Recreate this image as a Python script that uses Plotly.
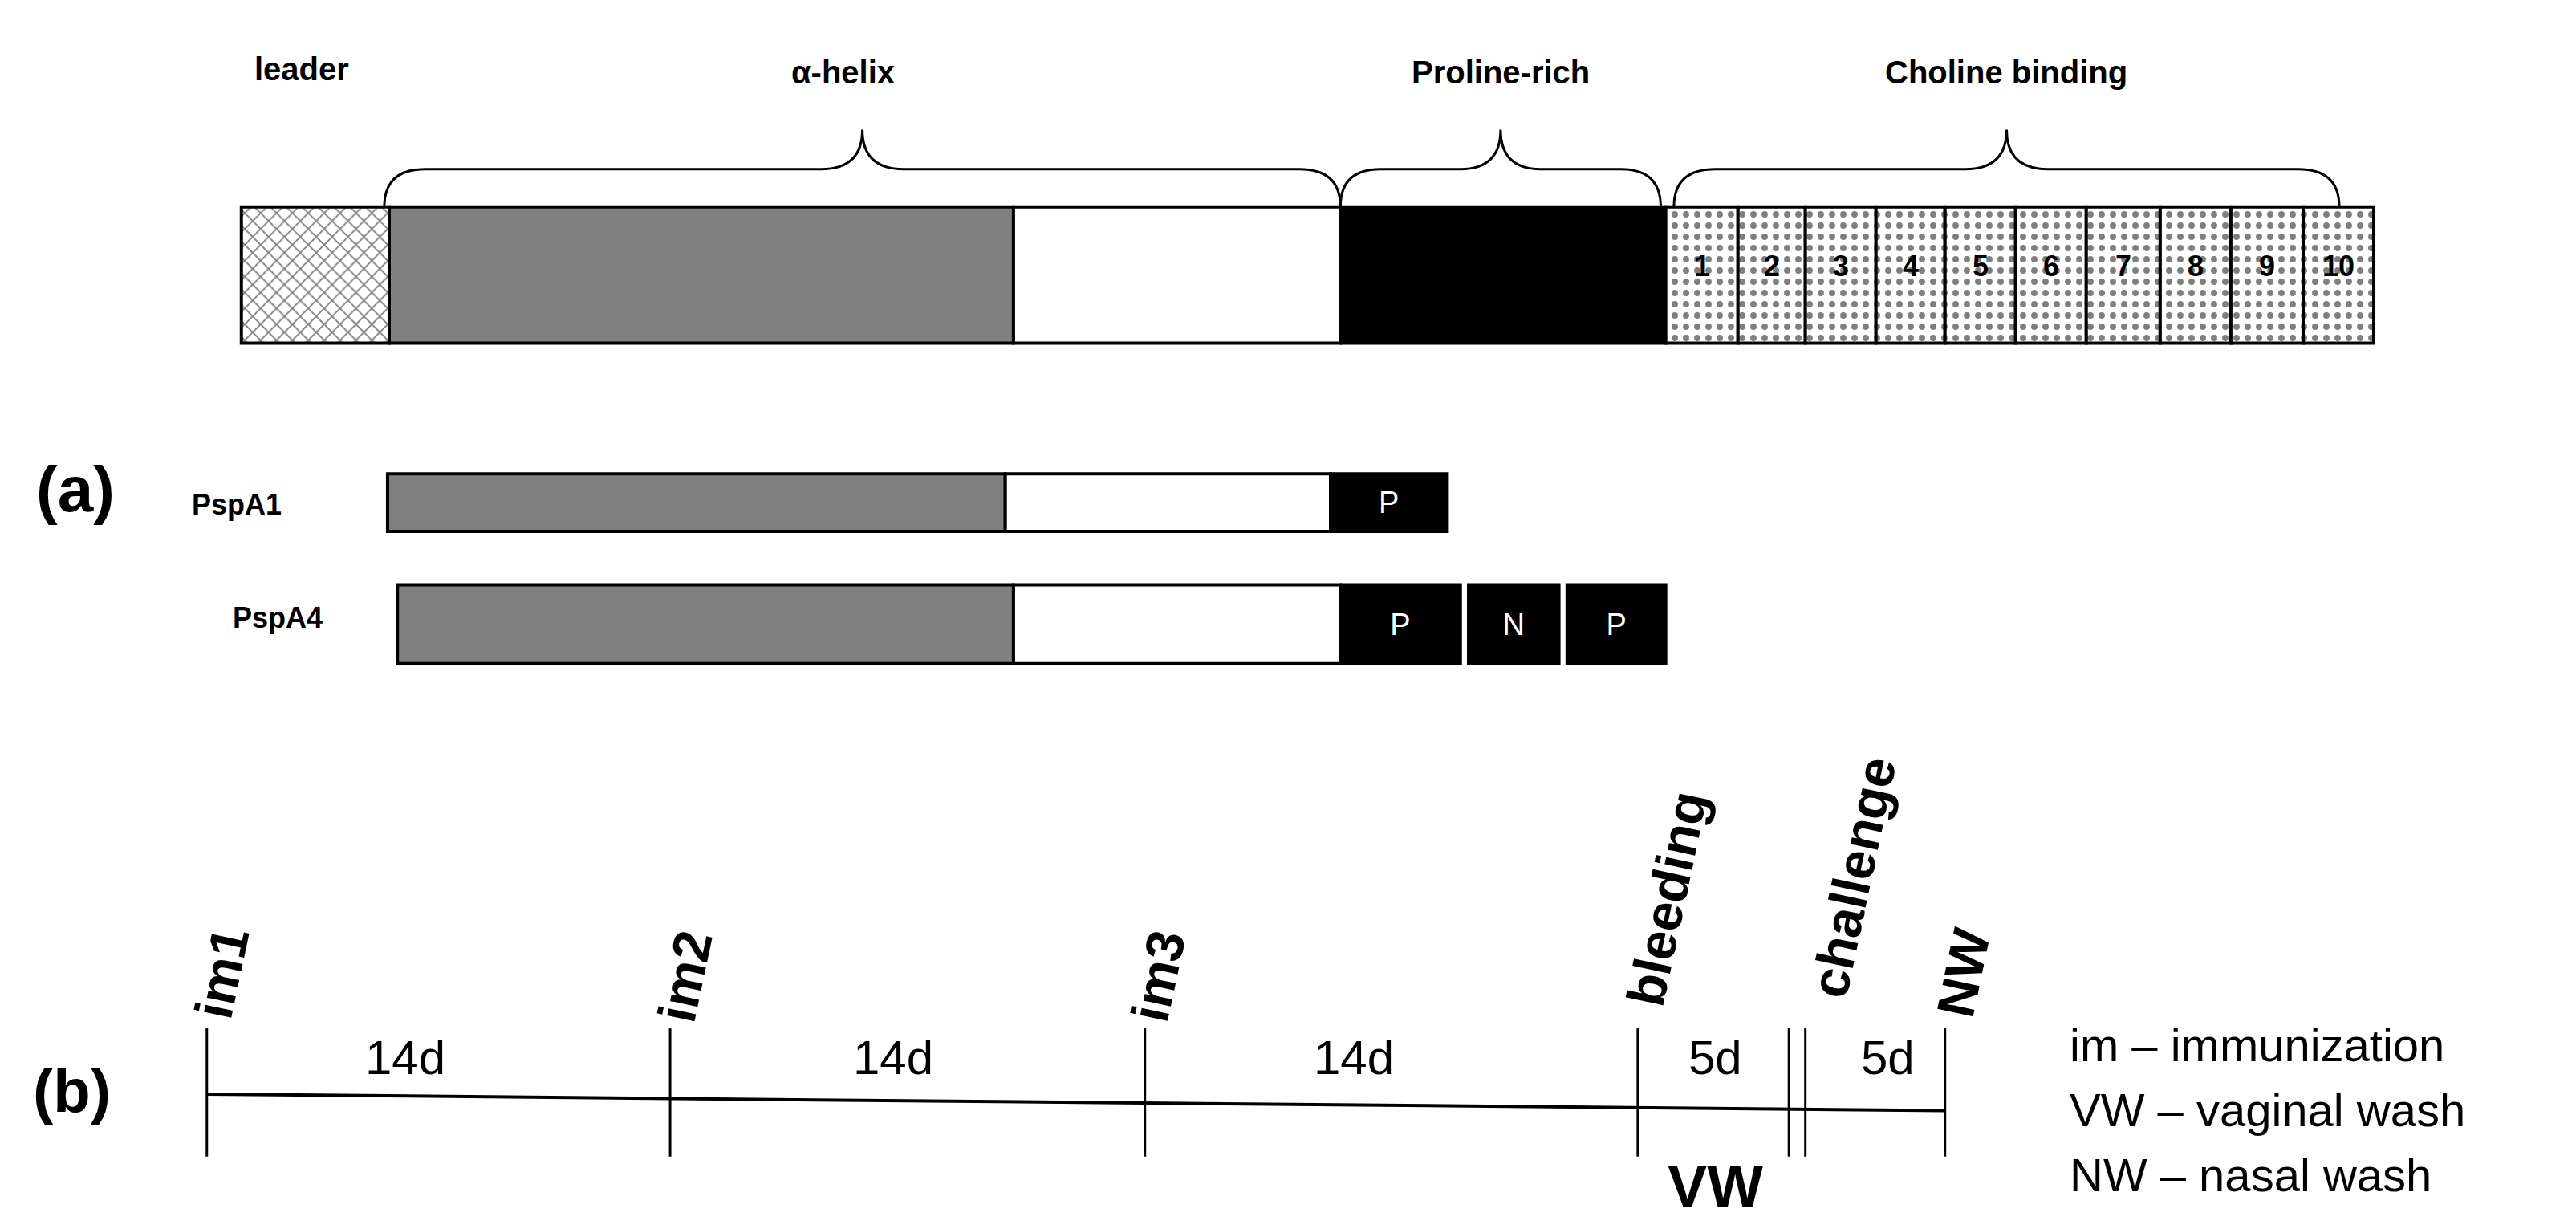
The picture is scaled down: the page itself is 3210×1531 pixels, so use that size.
import plotly.graph_objects as go

# display-unit coordinate system (x 0..1568, y 0..748, y downwards)
FONT = "Liberation Sans Narrow, Liberation Sans, Arial"

# full-length protein domains
domain_start = [143, 233, 613, 812]
domain_end = [233, 613, 812, 1010]
domain_fill = ["white", "#808080", "white", "black"]
domain_pattern = ["x", "", "", ""]
choline_edges = [1010, 1054, 1095, 1138, 1180, 1223, 1266, 1311, 1354, 1398, 1441]
choline_labels = [str(i) for i in range(1, 11)]

# constructs
pspa1_start = [232, 608, 806]
pspa1_end = [608, 806, 877]
pspa1_fill = ["#808080", "white", "black"]
pspa1_text = ["", "", "P"]
pspa4_start = [238, 613, 812, 890, 950]
pspa4_end = [613, 812, 885, 945, 1010]
pspa4_fill = ["#808080", "white", "black", "black", "black"]
pspa4_text = ["", "", "P", "N", "P"]

# braces
brace_x0 = [230, 812, 1015]
brace_x1 = [812, 1007, 1420]
brace_labels = ["α-helix", "Proline-rich", "Choline binding"]

# timeline
tick_x = [122, 404, 693, 993, 1085, 1095, 1180]
event_labels = ["im1", "im2", "im3", "bleeding", "challenge", "NW"]
event_x = [131, 413, 701, 1011, 1124, 1191]
event_y = [588, 590, 590, 543, 530, 588]
interval_labels = ["14d", "14d", "14d", "5d", "5d"]
interval_x = [243, 540, 820, 1040, 1145]
legend_lines = ["im – immunization", "VW – vaginal wash", "NW – nasal wash"]

fig = go.Figure()


def add_row(starts, ends, fills, y, thick, patterns=None, texts=None):
    for i, (a, b, c) in enumerate(zip(starts, ends, fills)):
        pat = patterns[i] if patterns else ""
        fig.add_trace(go.Bar(
            orientation="h", base=[a], x=[b - a], y=[y], width=thick,
            marker=dict(color=c, line=dict(color="black", width=4),
                        pattern=dict(shape=pat, fgcolor="black", bgcolor="white",
                                     size=14, solidity=0.25) if pat else None),
            text=[texts[i]] if texts else None, textposition="inside",
            insidetextanchor="middle",
            textfont=dict(family=FONT, size=38, color="white"),
            showlegend=False, hoverinfo="skip"))


add_row(domain_start, domain_end, domain_fill, 163.5, 83, patterns=domain_pattern)
add_row(choline_edges[:-1], choline_edges[1:], ["white"] * 10, 163.5, 83,
        patterns=["."] * 10)
add_row(pspa1_start, pspa1_end, pspa1_fill, 302, 35, texts=pspa1_text)
add_row(pspa4_start, pspa4_end, pspa4_fill, 376, 48, texts=pspa4_text)

for a, b, lab in zip(choline_edges[:-1], choline_edges[1:], choline_labels):
    fig.add_annotation(x=(a + b) / 2, y=158, text="<b>%s</b>" % lab, showarrow=False,
                       font=dict(family=FONT, size=36, color="black"))

shapes = []
for x0, x1, lab in zip(brace_x0, brace_x1, brace_labels):
    m = (x0 + x1) / 2
    r = min(25, (x1 - x0) / 8)
    yb, yt, yp = 122, 99, 75
    path = (f"M{x0},{yb} Q{x0},{yt} {x0 + r},{yt} L{m - r},{yt} Q{m},{yt} {m},{yp} "
            f"Q{m},{yt} {m + r},{yt} L{x1 - r},{yt} Q{x1},{yt} {x1},{yb}")
    shapes.append(dict(type="path", path=path, xref="x", yref="y",
                       line=dict(color="black", width=3)))
    fig.add_annotation(x=m - 12 if lab == "α-helix" else m, y=40, text="<b>%s</b>" % lab,
                       showarrow=False, font=dict(family=FONT, size=40, color="black"))
fig.add_annotation(x=180, y=38, text="<b>leader</b>", showarrow=False,
                   font=dict(family=FONT, size=40, color="black"))

fig.add_annotation(x=42, y=294, text="<b>(a)</b>", showarrow=False,
                   font=dict(family=FONT, size=80, color="black"))
fig.add_annotation(x=140, y=303, text="<b>PspA1</b>", showarrow=False,
                   font=dict(family=FONT, size=36, color="black"))
fig.add_annotation(x=165, y=372, text="<b>PspA4</b>", showarrow=False,
                   font=dict(family=FONT, size=36, color="black"))

# timeline line
fig.add_trace(go.Scatter(x=[tick_x[0], tick_x[-1]], y=[662, 672], mode="lines",
                         line=dict(color="black", width=4), showlegend=False,
                         hoverinfo="skip"))
for tx in tick_x:
    shapes.append(dict(type="line", xref="x", yref="y", x0=tx, x1=tx, y0=622, y1=700,
                       line=dict(color="black", width=3)))

for lab, x, y in zip(event_labels, event_x, event_y):
    fig.add_annotation(x=x, y=y, text="<b>%s</b>" % lab, showarrow=False, textangle=-78,
                       font=dict(family=FONT, size=66, color="black"))
for lab, x in zip(interval_labels, interval_x):
    fig.add_annotation(x=x, y=640, text=lab, showarrow=False,
                       font=dict(family=FONT, size=60, color="black"))
fig.add_annotation(x=1040, y=718, text="<b>VW</b>", showarrow=False,
                   font=dict(family=FONT, size=74, color="black"))
fig.add_annotation(x=40, y=660, text="<b>(b)</b>", showarrow=False,
                   font=dict(family=FONT, size=76, color="black"))
for i, line in enumerate(legend_lines):
    fig.add_annotation(x=1255, y=632 + 39.5 * i, text=line, showarrow=False,
                       xanchor="left", font=dict(family=FONT, size=58, color="black"))

fig.update_layout(
    width=3210, height=1531, margin=dict(l=0, r=0, t=0, b=0),
    paper_bgcolor="white", plot_bgcolor="white", barmode="overlay",
    shapes=shapes, showlegend=False,
    xaxis=dict(range=[0, 1568], visible=False, fixedrange=True),
    yaxis=dict(range=[748, 0], visible=False, fixedrange=True),
)
fig.write_html("out.html")
